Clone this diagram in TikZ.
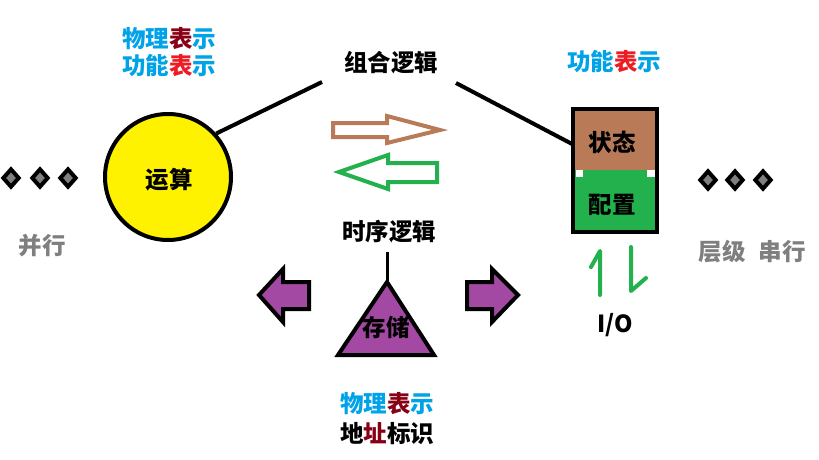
\documentclass[tikz,border=0pt]{standalone}
\usepackage{fontspec}
\setmainfont{Noto Sans CJK SC}
\usetikzlibrary{shapes.geometric}
\definecolor{pblue}{HTML}{00A2E8}
\definecolor{pdred}{HTML}{880015}
\definecolor{pred}{HTML}{ED1C24}
\definecolor{pgray}{HTML}{7F7F7F}
\definecolor{pbrown}{HTML}{B97A57}
\definecolor{pgreen}{HTML}{22B14C}
\definecolor{ppurple}{HTML}{A349A4}
\definecolor{pyellow}{HTML}{FFF200}
\tikzset{
  lbl/.style={font=\fontsize{23.5}{26}\selectfont\bfseries, inner sep=0pt},
  glbl/.style={lbl, text=pgray},
  dia/.style={diamond, draw=black, fill=pgray, line width=4pt, minimum width=17pt, minimum height=19pt, inner sep=0pt},
  thick4/.style={line width=4pt},
  blockarrow/.style={line width=4pt, line join=miter},
}
\begin{document}
\begin{tikzpicture}[x=1pt,y=-1pt]
\useasboundingbox (0,0) rectangle (819,460);
% labels
\node[lbl] (tl1) at (169,39) {\textcolor{pblue}{物理}\textcolor{pdred}{表}\textcolor{pblue}{示}};
\node[lbl] (tl2) at (169,66) {\textcolor{pblue}{功能}\textcolor{pred}{表}\textcolor{pblue}{示}};
\node[lbl] (tr) at (614,62) {\textcolor{pblue}{功能}\textcolor{pred}{表}\textcolor{pblue}{示}};
\node[lbl] (zh) at (391,63) {组合逻辑};
\node[lbl] (sx) at (389,232) {时序逻辑};
\node[glbl] (bx) at (42,246) {并行};
\node[glbl] (cj) at (722,252) {层级};
\node[glbl] (cx) at (782,252) {串行};
\node[lbl] (bt1) at (387,404) {\textcolor{pblue}{物理}\textcolor{pdred}{表}\textcolor{pblue}{示}};
\node[lbl] (bt2) at (387,434) {地\textcolor{pdred}{址}标识};
% circle
\node[circle, draw=black, fill=pyellow, line width=4pt, minimum size=126pt, inner sep=0pt] (yun) at (168,177) {};
\node[lbl] (yuntext) at (169,180) {运算};
% lines
\coordinate (l1) at (322,82);
\coordinate (r1) at (456,83);
\coordinate (r2) at (574,145);
\draw[thick4] (yun.42) -- (l1);
\draw[thick4] (r1) -- (r2);
% box
\node[rectangle, minimum width=84pt, minimum height=123pt, inner sep=0pt] (box) at (615,170.5) {};
\fill[pbrown] (box.north west) rectangle (657,170);
\fill[pgreen] (573,170) rectangle (box.south east);
\fill[white] (576,170) rectangle (583,177);
\fill[white] (647,170) rectangle (655,177);
\draw[line width=4pt] (box.north west) rectangle (box.south east);
\node[lbl] (zt) at (612,142) {状态};
\node[lbl] (pz) at (612,205) {配置};
% brown arrow
\draw[blockarrow, draw=pbrown] (333,123) -- (387,123) -- (387,116) -- (440,130) -- (387,143) -- (387,137) -- (333,137) -- cycle;
% green arrow
\draw[blockarrow, draw=pgreen] (437,163) -- (388,163) -- (388,155) -- (339,172) -- (388,189) -- (388,182) -- (437,182) -- cycle;
% diamonds
\node[dia] (d1) at (11,178) {};
\node[dia] (d2) at (40,178) {};
\node[dia] (d3) at (68,178) {};
\node[dia] (d4) at (708,180) {};
\node[dia] (d5) at (735,180) {};
\node[dia] (d6) at (763,180) {};
% harpoons
\draw[thick4, draw=pgreen, line cap=round, line join=round] (591,267) -- (600,251) -- (600,295);
\draw[thick4, draw=pgreen, line cap=round, line join=round] (631,247) -- (631,291) -- (646,278);
\node[lbl] (io) at (615,325) {I/O};
% storage
\coordinate (st0) at (387,252);
\coordinate (apex) at (387,282);
\draw[line width=4pt, fill=ppurple, line join=miter] (apex) -- (434,355) -- (338,355) -- cycle;
\draw[line width=3pt] (st0) -- (apex);
\node[lbl] (cc) at (386,328) {存储};
% purple arrows
\draw[blockarrow, fill=ppurple] (309,282) -- (283,282) -- (283,269) -- (259,295) -- (283,322) -- (283,309) -- (309,309) -- cycle;
\draw[blockarrow, fill=ppurple] (467,282) -- (492,282) -- (492,269) -- (518,295) -- (492,322) -- (492,309) -- (467,309) -- cycle;
\end{tikzpicture}
\end{document}
